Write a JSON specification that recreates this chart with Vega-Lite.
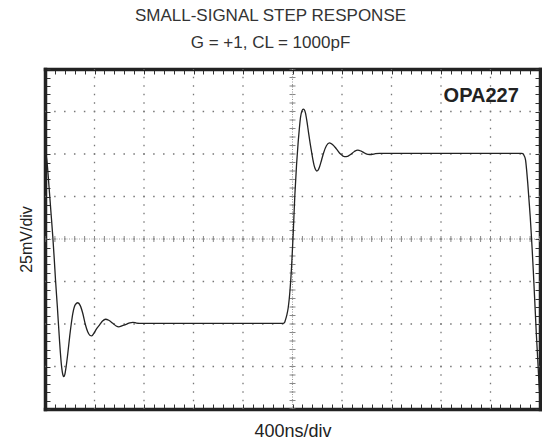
{
  "$schema": "https://vega.github.io/schema/vega-lite/v6.json",
  "width": 495,
  "height": 340,
  "autosize": {"type": "none"},
  "padding": {"left": 45, "top": 69, "right": 2, "bottom": 36},
  "background": "white",
  "config": {
    "view": {"stroke": null},
    "font": "Liberation Sans",
    "axis": {
      "domainColor": "#222",
      "domainWidth": 3.5,
      "domainCap": "square",
      "tickColor": "#333",
      "tickWidth": 1,
      "tickSize": -5,
      "labels": false,
      "grid": false,
      "zindex": 1,
      "titleFont": "Liberation Sans",
      "titleFontSize": 17,
      "titleFontWeight": "normal",
      "titleColor": "#222"
    }
  },
  "title": {
    "text": ["SMALL-SIGNAL STEP RESPONSE", "G = +1, CL = 1000pF"],
    "anchor": "middle",
    "frame": "group",
    "font": "Liberation Sans",
    "fontSize": 17,
    "fontWeight": "normal",
    "color": "#333",
    "lineHeight": 27,
    "dx": -22,
    "offset": 14
  },
  "datasets": {
    "trace": [
      {"t": 0, "mV": 50.4}, {"t": 8, "mV": 49.5}, {"t": 14.5, "mV": 46.5}, {"t": 25, "mV": 38}, {"t": 36.4, "mV": 27.0},
      {"t": 50, "mV": 14}, {"t": 63, "mV": 1.4}, {"t": 75, "mV": -12}, {"t": 85, "mV": -24.1}, {"t": 100, "mV": -40},
      {"t": 117, "mV": -59.4}, {"t": 133, "mV": -74.3}, {"t": 145, "mV": -80}, {"t": 152, "mV": -81.0}, {"t": 160, "mV": -79.8},
      {"t": 170, "mV": -75.5}, {"t": 184, "mV": -67.5}, {"t": 200, "mV": -57}, {"t": 212, "mV": -50}, {"t": 225, "mV": -43.7},
      {"t": 245, "mV": -38.6}, {"t": 265, "mV": -37.5}, {"t": 285, "mV": -39.2}, {"t": 305, "mV": -43.7}, {"t": 325, "mV": -50},
      {"t": 345, "mV": -54.6}, {"t": 362, "mV": -56.6}, {"t": 378, "mV": -57.0}, {"t": 395, "mV": -55.5}, {"t": 415, "mV": -53},
      {"t": 440, "mV": -50.6}, {"t": 465, "mV": -48.2}, {"t": 489, "mV": -47.2}, {"t": 515, "mV": -47.8}, {"t": 548, "mV": -49.6},
      {"t": 575, "mV": -51.2}, {"t": 596, "mV": -51.7}, {"t": 625, "mV": -51}, {"t": 656, "mV": -50.2}, {"t": 685, "mV": -49.3},
      {"t": 710, "mV": -49.0}, {"t": 740, "mV": -49.5}, {"t": 764, "mV": -49.6}, {"t": 1000, "mV": -49.6}, {"t": 1500, "mV": -49.6},
      {"t": 1925, "mV": -49.6}, {"t": 1935, "mV": -49.2}, {"t": 1943, "mV": -47.6}, {"t": 1955, "mV": -44.5}, {"t": 1965, "mV": -40.6},
      {"t": 1980, "mV": -30}, {"t": 1992, "mV": -17.1}, {"t": 2005, "mV": 2}, {"t": 2019, "mV": 25.9}, {"t": 2033, "mV": 44},
      {"t": 2046, "mV": 57.2}, {"t": 2056, "mV": 65.5}, {"t": 2065, "mV": 71.7}, {"t": 2077, "mV": 75.5}, {"t": 2087, "mV": 76.4},
      {"t": 2096, "mV": 76}, {"t": 2105, "mV": 74.1}, {"t": 2117, "mV": 69}, {"t": 2129, "mV": 62.9}, {"t": 2142, "mV": 56.5},
      {"t": 2154, "mV": 51.3}, {"t": 2164, "mV": 47}, {"t": 2174, "mV": 43.5}, {"t": 2185, "mV": 41}, {"t": 2196, "mV": 40.0},
      {"t": 2207, "mV": 40.5}, {"t": 2218, "mV": 42.3}, {"t": 2235, "mV": 46.5}, {"t": 2251, "mV": 50.6}, {"t": 2275, "mV": 55},
      {"t": 2299, "mV": 56.6}, {"t": 2325, "mV": 55.5}, {"t": 2356, "mV": 52.9}, {"t": 2388, "mV": 50}, {"t": 2420, "mV": 48.4},
      {"t": 2445, "mV": 48.6}, {"t": 2469, "mV": 49.7}, {"t": 2500, "mV": 51.5}, {"t": 2528, "mV": 52.3}, {"t": 2555, "mV": 51.7},
      {"t": 2582, "mV": 50.6}, {"t": 2610, "mV": 49.8}, {"t": 2638, "mV": 49.7}, {"t": 2670, "mV": 50.2}, {"t": 2703, "mV": 50.4},
      {"t": 3000, "mV": 50.4}, {"t": 3500, "mV": 50.4}, {"t": 3850, "mV": 50.4}, {"t": 3861, "mV": 50.2}, {"t": 3872, "mV": 49},
      {"t": 3883, "mV": 46.5}, {"t": 3892, "mV": 40.5}, {"t": 3901, "mV": 32.9}, {"t": 3911, "mV": 23}, {"t": 3921, "mV": 13.1},
      {"t": 3929, "mV": 3.5}, {"t": 3937, "mV": -6.5}, {"t": 3946, "mV": -19}, {"t": 3956, "mV": -33.9}, {"t": 3963, "mV": -44.5},
      {"t": 3970, "mV": -55.3}, {"t": 3977, "mV": -64.5}, {"t": 3984, "mV": -74}, {"t": 3992, "mV": -85}, {"t": 4000, "mV": -95}
    ],
    "vgrid": [{"t": 400}, {"t": 800}, {"t": 1200}, {"t": 1600}, {"t": 2000}, {"t": 2400}, {"t": 2800}, {"t": 3200}, {"t": 3600}],
    "hgrid": [{"mV": -75}, {"mV": -50}, {"mV": -25}, {"mV": 0}, {"mV": 25}, {"mV": 50}, {"mV": 75}],
    "vcenter": [{"t": 2000}],
    "hcenter": [{"mV": 0}],
    "label": [{"t": 3829, "mV": 80.6, "text": "OPA227"}]
  },
  "layer": [
    {
      "data": {"name": "vgrid"},
      "mark": {"type": "rule", "color": "#777", "strokeWidth": 1.3, "strokeDash": [1.5, 7], "strokeDashOffset": 0.75},
      "encoding": {"x": {"field": "t", "type": "quantitative", "scale": {"domain": [0, 4000], "nice": false, "zero": false}, "axis": null}}
    },
    {
      "data": {"name": "hgrid"},
      "mark": {"type": "rule", "color": "#777", "strokeWidth": 1.3, "strokeDash": [1.5, 8.4], "strokeDashOffset": 0.75},
      "encoding": {"y": {"field": "mV", "type": "quantitative", "scale": {"domain": [-100, 100], "nice": false, "zero": false}, "axis": null}}
    },
    {
      "data": {"name": "vcenter"},
      "mark": {"type": "rule", "color": "#888", "strokeWidth": 6, "strokeDash": [1, 7.5], "strokeDashOffset": 0.5},
      "encoding": {"x": {"field": "t", "type": "quantitative", "scale": {"domain": [0, 4000], "nice": false, "zero": false}, "axis": null}}
    },
    {
      "data": {"name": "vcenter"},
      "mark": {"type": "rule", "color": "#999", "strokeWidth": 1, "strokeDash": [1, 1.5]},
      "encoding": {"x": {"field": "t", "type": "quantitative", "scale": {"domain": [0, 4000], "nice": false, "zero": false}, "axis": null}}
    },
    {
      "data": {"name": "hcenter"},
      "mark": {"type": "rule", "color": "#888", "strokeWidth": 6, "strokeDash": [1, 8.9], "strokeDashOffset": 0.5},
      "encoding": {"y": {"field": "mV", "type": "quantitative", "scale": {"domain": [-100, 100], "nice": false, "zero": false}, "axis": null}}
    },
    {
      "data": {"name": "hcenter"},
      "mark": {"type": "rule", "color": "#999", "strokeWidth": 1, "strokeDash": [1, 1.5]},
      "encoding": {"y": {"field": "mV", "type": "quantitative", "scale": {"domain": [-100, 100], "nice": false, "zero": false}, "axis": null}}
    },
    {
      "data": {"name": "trace"},
      "mark": {"type": "line", "color": "#222", "strokeWidth": 1.3, "interpolate": "monotone", "clip": true},
      "encoding": {
        "x": {"field": "t", "type": "quantitative", "scale": {"domain": [0, 4000], "nice": false, "zero": false},
          "axis": {"orient": "bottom", "title": "400ns/div", "titlePadding": 13, "titleFontSize": 18,
            "values": [0,80,160,240,320,400,480,560,640,720,800,880,960,1040,1120,1200,1280,1360,1440,1520,1600,1680,1760,1840,1920,2000,2080,2160,2240,2320,2400,2480,2560,2640,2720,2800,2880,2960,3040,3120,3200,3280,3360,3440,3520,3600,3680,3760,3840,3920,4000]}},
        "y": {"field": "mV", "type": "quantitative", "scale": {"domain": [-100, 100], "nice": false, "zero": false},
          "axis": {"orient": "left", "title": "25mV/div", "titlePadding": 10, "titleFontSize": 16,
            "values": [-100,-95,-90,-85,-80,-75,-70,-65,-60,-55,-50,-45,-40,-35,-30,-25,-20,-15,-10,-5,0,5,10,15,20,25,30,35,40,45,50,55,60,65,70,75,80,85,90,95,100]}}
      }
    },
    {
      "data": {"name": "label"},
      "mark": {"type": "text", "align": "right", "baseline": "alphabetic", "font": "Liberation Sans", "fontSize": 20, "fontWeight": "bold", "color": "#222"},
      "encoding": {
        "x": {"field": "t", "type": "quantitative", "scale": {"domain": [0, 4000], "nice": false, "zero": false},
          "axis": {"orient": "top", "title": null,
            "values": [0,80,160,240,320,400,480,560,640,720,800,880,960,1040,1120,1200,1280,1360,1440,1520,1600,1680,1760,1840,1920,2000,2080,2160,2240,2320,2400,2480,2560,2640,2720,2800,2880,2960,3040,3120,3200,3280,3360,3440,3520,3600,3680,3760,3840,3920,4000]}},
        "y": {"field": "mV", "type": "quantitative", "scale": {"domain": [-100, 100], "nice": false, "zero": false},
          "axis": {"orient": "right", "title": null,
            "values": [-100,-95,-90,-85,-80,-75,-70,-65,-60,-55,-50,-45,-40,-35,-30,-25,-20,-15,-10,-5,0,5,10,15,20,25,30,35,40,45,50,55,60,65,70,75,80,85,90,95,100]}},
        "text": {"field": "text", "type": "nominal"}
      }
    }
  ],
  "resolve": {"axis": {"x": "independent", "y": "independent"}}
}
